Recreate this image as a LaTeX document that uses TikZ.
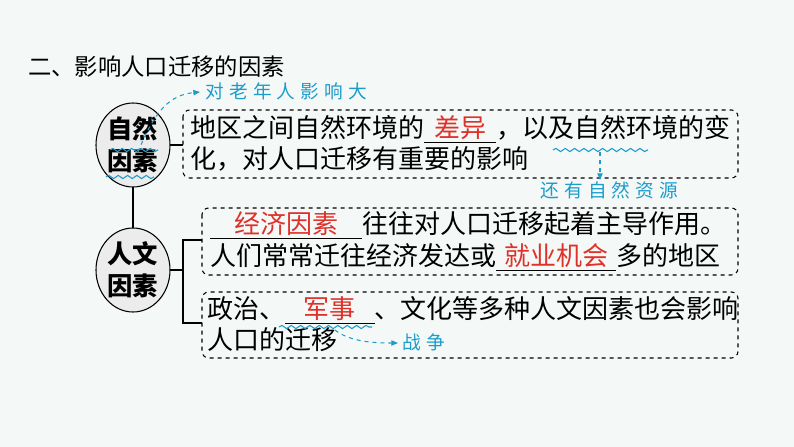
\documentclass[tikz,border=0pt]{standalone}
\usepackage{fontspec}
\setmainfont{Noto Sans CJK SC}
\newfontfamily\annfont[LetterSpace=28]{Noto Sans CJK SC}
\usetikzlibrary{decorations.pathmorphing,arrows.meta}
\definecolor{bg}{HTML}{F4F9F7}
\definecolor{ann}{HTML}{1C9CCB}
\definecolor{ans}{HTML}{E0302A}
\newcommand\blank[2]{\rlap{\rule[-4pt]{#1}{0.6pt}}\makebox[#1]{\color{ans}#2}}
\begin{document}
\begin{tikzpicture}[x=0.75pt,y=-0.75pt,
  box/.style={draw,dashed,rounded corners=5pt,thick},
  txt/.style={anchor=base west,inner sep=0,font=\fontsize{19.5}{24}\selectfont},
  etxt/.style={align=center,font=\fontsize{19}{24}\bfseries\selectfont},
  wav/.style={ann,thick,decorate,decoration={snake,amplitude=1.2pt,segment length=7pt}},
  arr/.style={ann,dashed,thick,-{Triangle[length=5pt,width=4pt]}},
  anntxt/.style={anchor=base west,inner sep=0,text=ann,font=\annfont\fontsize{14}{16}\selectfont\itshape}]
\fill[bg] (0,0) rectangle (794,447);
\useasboundingbox (0,0) rectangle (794,447);
\node[anchor=base west,inner sep=0,font=\fontsize{17.5}{20}\selectfont] (title) at (28,75) {二、影响人口迁移的因素};
% ellipses
\draw[thick,fill=gray!15] (133,145) ellipse (37 and 42);
\draw[thick,fill=gray!15] (133,270) ellipse (37 and 42);
\node[etxt] (e1) at (133,145) {自然\\因素};
\node[etxt] (e2) at (133,270) {人文\\因素};
\coordinate (e1b) at (133,187); \coordinate (e2t) at (133,228);
\draw[thick] (e1b) -- (e2t);
% boxes
\draw[box] (183,110) rectangle (738,178);
\draw[box] (202,208) rectangle (738,275);
\draw[box] (202,292) rectangle (738,358);
\coordinate (e1r) at (170,145); \coordinate (b1l) at (183,145);
\draw[thick] (e1r) -- (b1l);
\coordinate (e2r) at (170,270); \coordinate (br) at (183,270);
\draw[thick] (e2r) -- (br);
\draw[thick] (202,240) -- (183,240) -- (183,323) -- (202,323);
% texts
\node[txt] (t1) at (190,137) {地区之间自然环境的\blank{54pt}{差异}，以及自然环境的变};
\node[txt] (t2) at (190,168) {化，对人口迁移有重要的影响};
\node[txt] (t3) at (210,233) {\blank{114pt}{经济因素}往往对人口迁移起着主导作用。};
\node[txt] (t4) at (210,265) {人们常常迁往经济发达或\blank{90pt}{就业机会}多的地区};
\node[txt] (t5) at (207,318) {政治、\blank{67pt}{军事}、文化等多种人文因素也会影响};
\node[txt] (t6) at (207,349) {人口的迁移};
% annotations
\draw[wav] (110,150) -- (158,150);
\draw[wav] (106,177) -- (154,177);
\draw[wav] (553,150) -- (648,150);
\draw[wav] (279,327) -- (372,327);
\node[anntxt] (a1) at (205,98) {对老年人影响大};
\node[anntxt] (a2) at (540,197) {还有自然资源};
\node[anntxt] (a3) at (402,349) {战争};
\draw[arr] (138,152) .. controls (155,110) and (170,95) .. (200,92);
\draw[arr] (600,152) -- (600,180);
\draw[arr] (335,330) .. controls (350,342) and (375,343) .. (398,343);
\end{tikzpicture}
\end{document}
